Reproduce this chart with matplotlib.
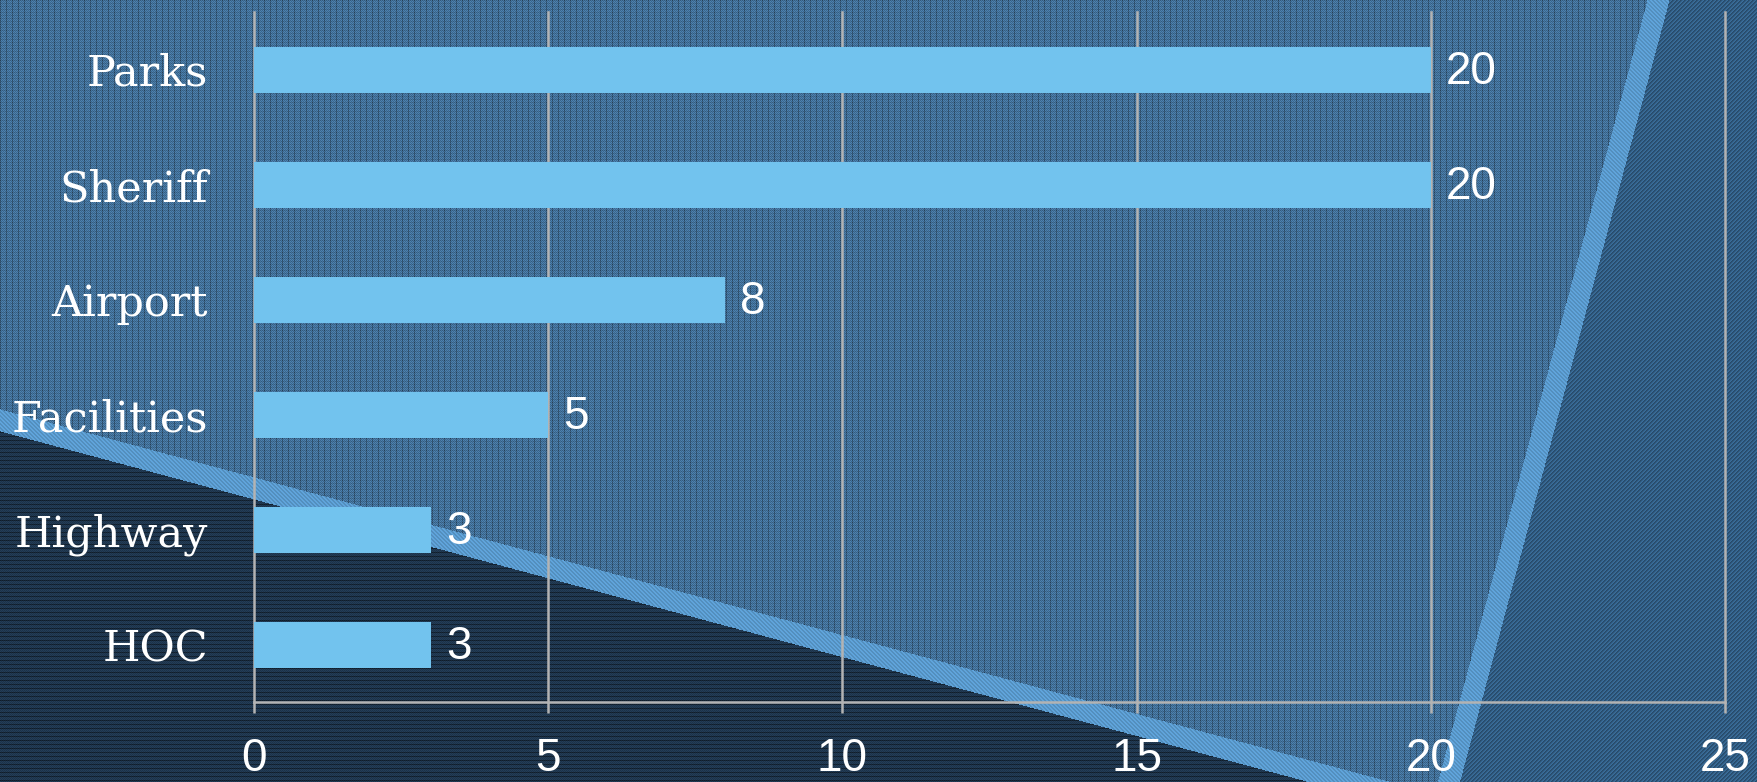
import numpy as np
import matplotlib
matplotlib.use('Agg')
import matplotlib.pyplot as plt

# Chart data
categories = ['Parks', 'Sheriff', 'Airport', 'Facilities', 'Highway', 'HOC']
values = [20, 20, 8, 5, 3, 3]
x_ticks = [0, 5, 10, 15, 20, 25]

W, H = 1758, 782
bar_color = '#72c3ee'
grid_color = '#b3b3b3'

# Textured background built as a pixel image
yy, xx = np.indices((H, W))
checker = ((xx + yy) % 2) * 2 - 1

band1_top = 409 + 0.268 * xx
band1_bot = band1_top + 22
band2_left = 1647 - 0.268 * yy
band2_right = band2_left + 22

img = np.zeros((H, W, 3))

# upper middle area: woven with vertical lines
med = np.array([0x45, 0x75, 0x9f]) / 255
f_med = 1 + 0.12 * checker - 0.25 * (xx % 6 == 0) - 0.10 * (yy % 3 == 0)
img[:] = med * f_med[..., None]

# lower left dark area: horizontal lines
dark = np.array([0x20, 0x38, 0x50]) / 255
f_dark = 1 + 0.10 * checker - 0.40 * (yy % 4 == 0)
m_dark = (yy >= band1_bot) & (xx < band2_left)
img[m_dark] = (dark * f_dark[..., None])[m_dark]

# right area: fine diagonal weave
right = np.array([0x31, 0x5c, 0x82]) / 255
f_right = 1 + 0.14 * ((((xx + yy) // 2) % 2) * 2 - 1) + 0.05 * checker
m_right = xx >= band2_right
img[m_right] = (right * f_right[..., None])[m_right]

# light diagonal bands
band = np.array([0x5a, 0x9a, 0xcd]) / 255
f_band = 1 + 0.07 * ((((xx - yy) // 2) % 2) * 2 - 1)
m_band = ((yy >= band1_top) & (yy < band1_bot) & (xx < band2_left)) | \
         ((xx >= band2_left) & (xx < band2_right))
img[m_band] = (band * f_band[..., None])[m_band]

img = np.clip(img, 0, 1)

fig = plt.figure(figsize=(W / 100, H / 100), dpi=100)
bg = fig.add_axes([0, 0, 1, 1], zorder=0)
bg.imshow(img, aspect='auto', interpolation='nearest')
bg.axis('off')

ax = fig.add_axes([254 / W, (H - 702) / H, (1725 - 254) / W, (702 - 12) / H], zorder=1)
ax.set_facecolor('none')

y = np.arange(len(categories))
ax.barh(y, values, height=0.4, color=bar_color, zorder=3)

for i, v in enumerate(values):
    ax.annotate(str(v), xy=(v, i), xytext=(11, -2), textcoords='offset points',
                va='center', ha='left', color='white', fontsize=33,
                family='Liberation Sans', zorder=4)

ax.set_xlim(0, 25)
ax.set_ylim(len(categories) - 0.5, -0.5)
ax.set_xticks(x_ticks)
ax.set_xticklabels([str(t) for t in x_ticks], fontsize=33, color='white',
                   family='Liberation Sans')
ax.set_yticks(y)
ax.set_yticklabels(categories, fontsize=31, color='white', family='DejaVu Serif')

ax.tick_params(axis='x', length=8, width=1.8, color=grid_color, pad=17)
ax.tick_params(axis='y', length=0, pad=33)

ax.xaxis.grid(True, color=grid_color, linewidth=1.8, zorder=1)
for line in ax.get_xgridlines():
    line.set_clip_on(False)
ax.set_axisbelow(True)

for side in ['top', 'right', 'left']:
    ax.spines[side].set_visible(False)
ax.spines['bottom'].set_color(grid_color)
ax.spines['bottom'].set_linewidth(1.8)

fig.savefig('out.png', dpi=100)
